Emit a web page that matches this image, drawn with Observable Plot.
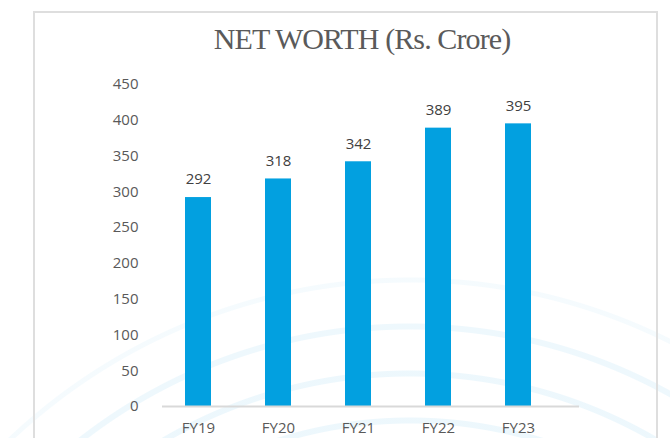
<!DOCTYPE html>
<html>
<head>
<meta charset="utf-8">
<script src="https://cdn.jsdelivr.net/npm/d3@7"></script>
<script src="https://cdn.jsdelivr.net/npm/@observablehq/plot@0.6"></script>
<style>
  html, body { margin: 0; padding: 0; background: #fff; }
  #wrap {
    position: relative; width: 670px; height: 438px; overflow: hidden;
    background: radial-gradient(circle at 410px 861px,
      rgba(255,255,255,0) 437px, rgba(0,150,220,0.07) 438px, rgba(0,150,220,0.07) 443px, rgba(255,255,255,0) 444px,
      rgba(255,255,255,0) 484px, rgba(0,150,220,0.07) 485px, rgba(0,150,220,0.07) 490px, rgba(255,255,255,0) 491px,
      rgba(255,255,255,0) 531px, rgba(0,150,220,0.065) 532px, rgba(0,150,220,0.065) 537px, rgba(255,255,255,0) 538px,
      rgba(255,255,255,0) 578px, rgba(0,150,220,0.04) 579px, rgba(0,150,220,0.04) 583px, rgba(255,255,255,0) 584px);
  }
  .prevbox { position: absolute; left: 33px; top: -12px; width: 622px; height: 10px; border: 1px solid #ececec; }
  .box { position: absolute; left: 33px; top: 11px; width: 621px; height: 450px; border: 2px solid #dedede; }
  .title {
    position: absolute; left: 0; top: 23px; width: 724px; text-align: center;
    font-family: "Liberation Serif", serif; font-size: 30px; line-height: 31px;
    letter-spacing: -0.9px; color: #5a5a5a;
  }
  #chart { position: absolute; left: 0; top: 70px; }
</style>
</head>
<body>
<div id="wrap">
  <div class="prevbox"></div>
  <div class="box"></div>
  <div class="title">NET WORTH (Rs. Crore)</div>
  <div id="chart"></div>
</div>
<script>
const years = ["FY19", "FY20", "FY21", "FY22", "FY23"];
const netWorth = [292, 318, 342, 389, 395];
const yTicks = [0, 50, 100, 150, 200, 250, 300, 350, 400, 450];

const data = years.map((fy, i) => ({fy, value: netWorth[i]}));

const chart = Plot.plot({
  width: 670,
  height: 368,
  marginLeft: 162,
  marginRight: 91,
  marginTop: 14,
  marginBottom: 32,
  style: {fontFamily: "Open Sans", fontSize: "15px", color: "#595959", background: "transparent"},
  x: {domain: years, range: [155.6, 559.4], paddingInner: 0.68, paddingOuter: 0.34, label: null},
  y: {domain: [0, 450], label: null},
  marks: [
    Plot.axisY({ticks: yTicks, tickSize: 0, tickPadding: 24, label: null, fontSize: 15}),
    Plot.axisX({tickSize: 0, tickPadding: 16, label: null, fontSize: 15}),
    Plot.barY(data, {x: "fy", y: "value", fill: "#02A0E0"}),
    Plot.ruleY([0], {stroke: "#d9d9d9", strokeWidth: 2}),
    Plot.text(data, {x: "fy", y: "value", text: d => String(d.value), dy: -18, fill: "#404040", fontSize: 15})
  ]
});
document.getElementById("chart").appendChild(chart);
</script>
</body>
</html>
